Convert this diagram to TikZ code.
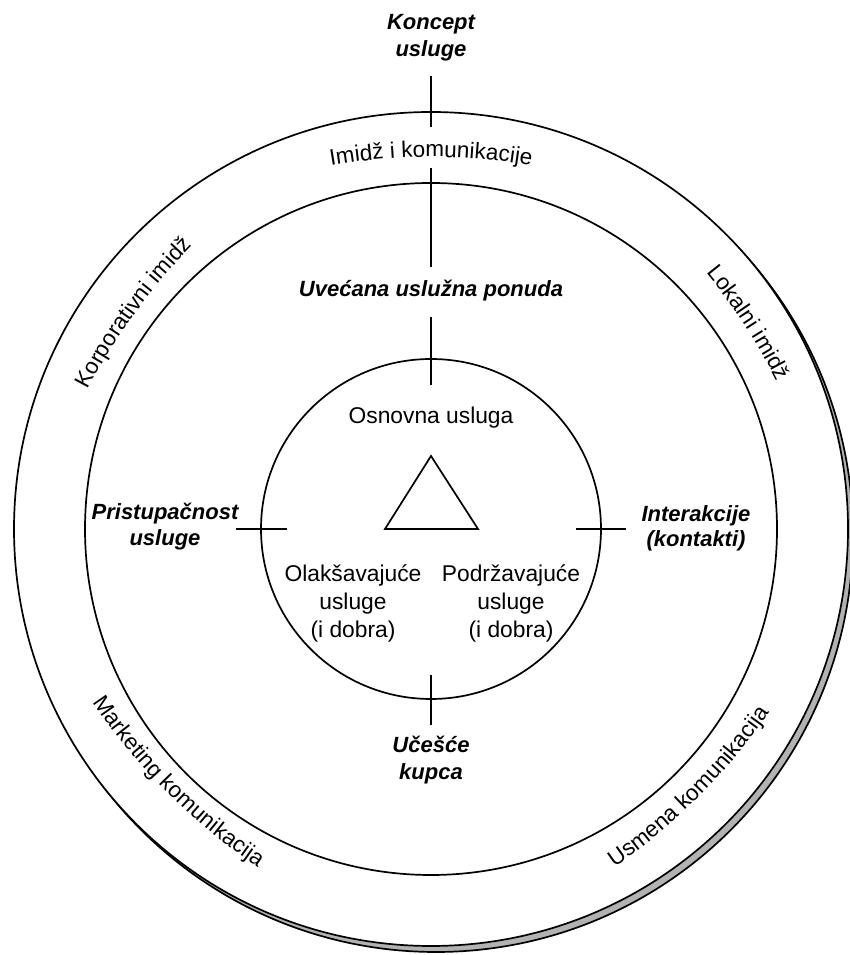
\documentclass[tikz,border=0pt]{standalone}
\usepackage{fontspec}
\setmainfont{Liberation Sans}
\usetikzlibrary{decorations.text,calc}

\newcommand\arcfont{\fontsize{22.5}{26}\selectfont}
% #1 mid angle, #2 baseline radius, #3 start angle, #4 end angle, #5 text
\newcommand\ringtext[5]{%
  \path[decorate, decoration={text along path, text align=center, text={|\arcfont|#5}}]
    ($(C)+(#1:{#2-600})$) ++(#3:600) arc[start angle=#3, end angle=#4, radius=600];
}

\begin{document}
\begin{tikzpicture}[x=1pt,y=1pt,
  ring/.style={circle, draw=black, line width=1.7pt, inner sep=0pt, outer sep=0pt, fill=white},
  tick/.style={draw=black, line width=1.7pt},
  plain/.style={font=\fontsize{22.8}{27}\selectfont, inner sep=0pt, anchor=base},
  key/.style={plain, font=\fontsize{22}{27}\selectfont\bfseries\itshape},
]
\useasboundingbox (0,0) rectangle (850,955);
\coordinate (C) at (431,426);

% rings, with the offset shadow behind the outer one
\node[ring, fill=black!30, minimum size=834pt] (shadow) at ([shift={(5,-6)}]C) {};
\node[ring, minimum size=834pt] (outer) at (C) {};
\node[ring, minimum size=692pt] (middle) at (C) {};
\node[ring, minimum size=340pt] (inner) at (C) {};

% tick marks on the rings
\draw[tick] ([yshift=36pt]outer.north) -- ([yshift=-15pt]outer.north);
\draw[tick] ([yshift=15pt]middle.north) -- ([yshift=-84pt]middle.north);
\draw[tick] ([yshift=42pt]inner.north) -- ([yshift=-26pt]inner.north);
\draw[tick] ([yshift=24pt]inner.south) -- ([yshift=-26pt]inner.south);
\draw[tick] ([xshift=-25pt]inner.west) -- ([xshift=26pt]inner.west);
\draw[tick] ([xshift=-25pt]inner.east) -- ([xshift=25pt]inner.east);

% central triangle
\draw[tick, line join=miter] (431,499) -- (385,426) -- (478,426) -- cycle;

% labels
\node[key] (koncept1) at (431,925.5) {Koncept};
\node[key] (koncept2) at (431,898) {usluge};
\node[key] (uvecana) at (431,658) {Uvećana uslužna ponuda};
\node[plain] (osnovna) at (431,531) {Osnovna usluga};
\node[plain] (olak1) at (353,373.3) {Olakšavajuće};
\node[plain] (olak2) at (353,345) {usluge};
\node[plain] (olak3) at (353,317.3) {(i dobra)};
\node[plain] (podr1) at (511,373.3) {Podržavajuće};
\node[plain] (podr2) at (511,345) {usluge};
\node[plain] (podr3) at (511,317.3) {(i dobra)};
\node[key] (prist1) at (165,435) {Pristupačnost};
\node[key] (prist2) at (165,409) {usluge};
\node[key] (inter1) at (696,433) {Interakcije};
\node[key] (inter2) at (696,408) {(kontakti)};
\node[key] (ucesce1) at (431,202) {Učešće};
\node[key] (ucesce2) at (431,175) {kupca};

% curved labels in the outer ring
\ringtext{90}{372}{110}{70}{Imidž i komunikacije}
\ringtext{144}{366}{164}{124}{Korporativni imidž}
\ringtext{33}{374}{53}{13}{Lokalni imidž}
\ringtext{225}{373}{205}{245}{Marketing komunikacija}
\ringtext{315}{379}{295}{335}{Usmena komunikacija}
\end{tikzpicture}
\end{document}
